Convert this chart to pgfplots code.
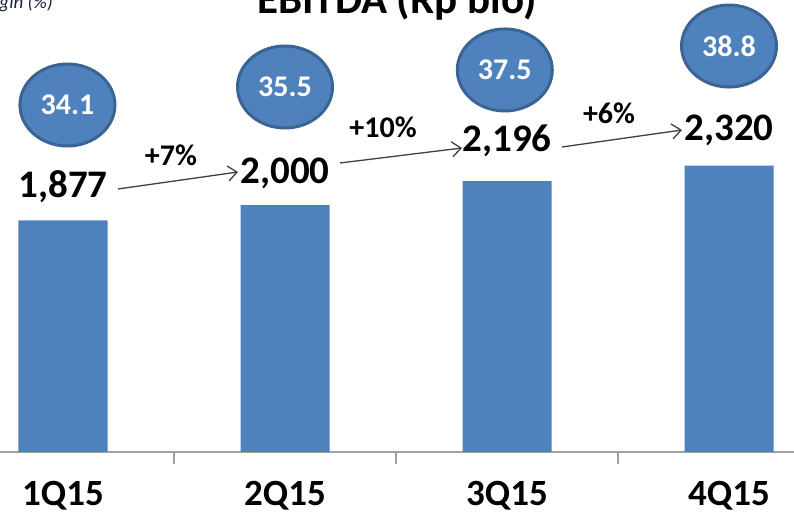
\documentclass[border=0pt]{standalone}
\usepackage{pgfplots}
\pgfplotsset{compat=1.18}
\usepackage{fontspec}
\setmainfont{Carlito}
\usetikzlibrary{shapes.geometric,arrows.meta}
\definecolor{barblue}{HTML}{4F81BD}
\definecolor{bubedge}{HTML}{3A6493}
\definecolor{axgray}{HTML}{A0A0A0}
\definecolor{arrgray}{HTML}{404040}
\definecolor{notecol}{RGB}{30,35,60}
\pgfplotstableread{
x y label off
0 1877 1,877 23
1 2000 2,000 22
2 2196 2,196 30
3 2320 2,320 25
}\ebitda
\pgfplotstableread{
x y label
0.02 2812 34.1
1.00 2958 35.5
1.99 3096 37.5
3.00 3290 38.8
}\margin
\begin{document}
\begin{tikzpicture}
\useasboundingbox (0pt,0pt) rectangle (794pt,513pt);
\clip (0pt,0pt) rectangle (794pt,513pt);
\begin{axis}[
  at={(0pt,61pt)}, anchor=south west,
  scale only axis, width=794pt, height=452pt,
  xmin=-0.28378, xmax=3.29279, ymin=0, ymax=3663,
  axis x line*=bottom, axis y line=none,
  axis line style={draw=axgray, line width=1.5pt},
  xtick={0,1,2,3}, xticklabels={1Q15,2Q15,3Q15,4Q15},
  major tick length=0pt,
  minor xtick={0.5,1.5,2.5}, minor tick length=12pt,
  tick align=outside,
  minor tick style={draw=axgray, line width=1.5pt},
  xticklabel style={font=\bfseries\fontsize{37}{38}\selectfont, anchor=base, yshift=-54pt},
  clip=false,
]
\addplot[ybar, bar width=89pt, bar shift=0pt, fill=barblue, draw=none,
  point meta=explicit symbolic,
  visualization depends on={\thisrow{off} \as \myoff},
  nodes near coords,
  nodes near coords style={anchor=base, yshift=\myoff pt, font=\bfseries\fontsize{39}{40}\selectfont, text=black}]
  table[x=x, y=y, meta=label] {\ebitda};
\addplot[draw=none, mark=none,
  point meta=explicit symbolic,
  nodes near coords,
  nodes near coords style={ellipse, anchor=center, fill=barblue, draw=bubedge, line width=3pt,
    minimum width=95pt, minimum height=82pt, inner sep=0pt, text=white,
    font=\bfseries\fontsize{30}{31}\selectfont}]
  table[x=x, y=y, meta=label] {\margin};
\end{axis}
\node[anchor=base, font=\bfseries\fontsize{43}{44}\selectfont] at (397pt,499pt) {EBITDA (Rp bio)};
\node[anchor=base east, font=\itshape\fontsize{19}{20}\selectfont, text=notecol, inner sep=0pt] at (53pt,504pt) {EBITDA Margin (\%)};
\begin{scope}[arrgray, line width=1.3pt, -{Straight Barb[length=9pt,width=15pt]}]
\draw (118pt,324pt) -- (238pt,341pt);
\draw (340pt,350pt) -- (462pt,365pt);
\draw (562pt,366pt) -- (682pt,383pt);
\end{scope}
\begin{scope}[font=\bfseries\fontsize{30}{31}\selectfont]
\node at (171pt,358pt) {+7\%};
\node at (383pt,386pt) {+10\%};
\node at (609pt,400pt) {+6\%};
\end{scope}
\end{tikzpicture}
\end{document}
